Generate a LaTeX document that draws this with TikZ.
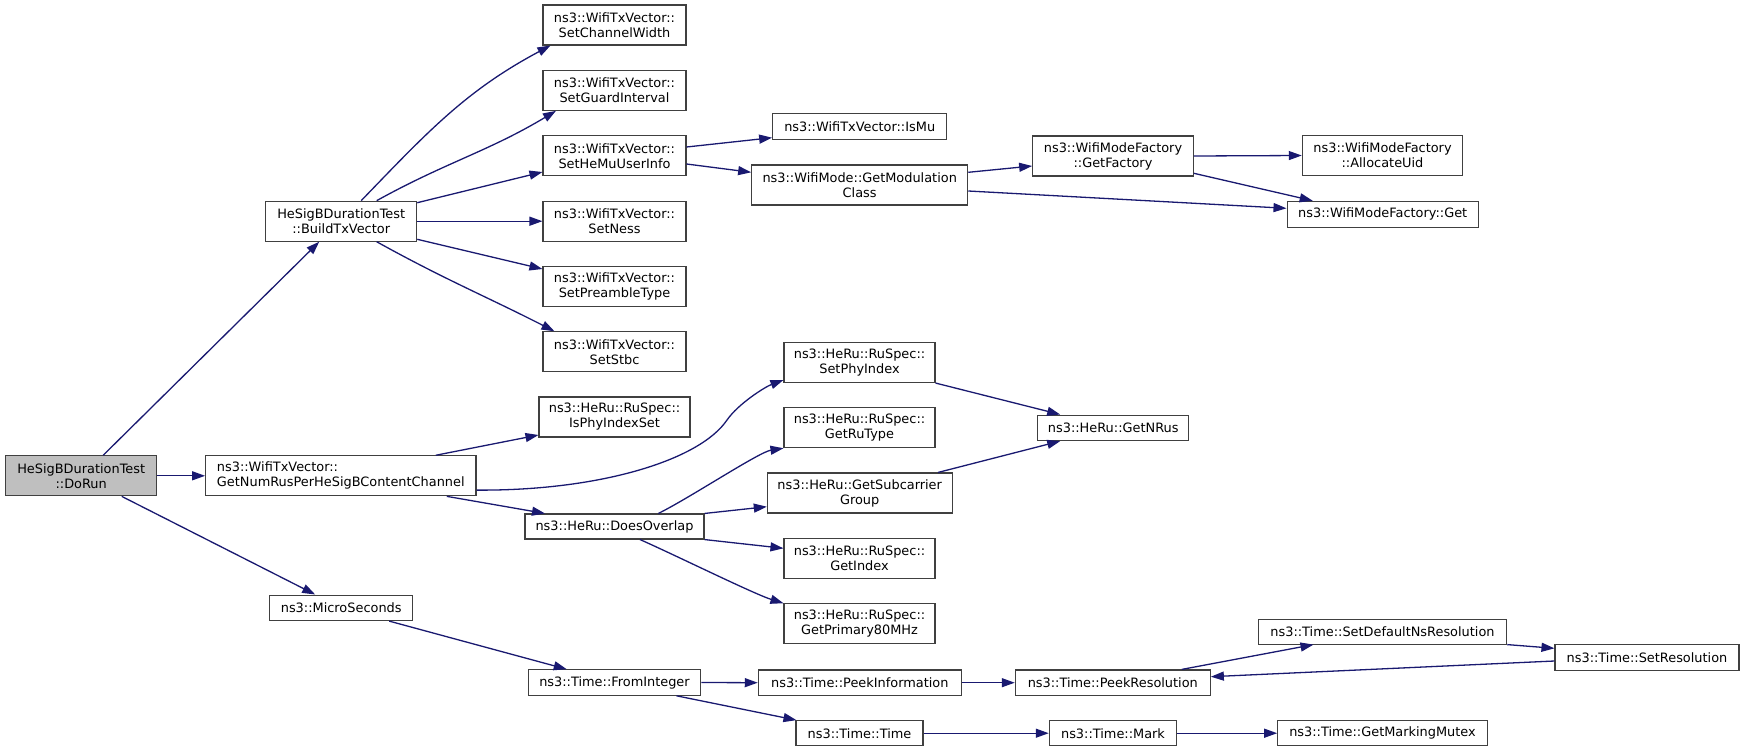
\documentclass[tikz,border=0pt]{standalone}
\usepackage{fontspec}
\setmainfont{DejaVu Sans}
\usetikzlibrary{arrows.meta}
\definecolor{edgecol}{HTML}{191970}
\definecolor{bordercol}{HTML}{404040}
\definecolor{rootfill}{HTML}{BFBFBF}
\begin{document}
\begin{tikzpicture}[x=1pt,y=-1pt,
  box/.style={draw=bordercol, line width=1.1pt, fill=white, inner sep=0pt,
    align=center, minimum height=40pt, font=\fontsize{12.9}{15}\selectfont},
  one/.style={minimum height=25.5pt},
  edge/.style={draw=edgecol, line width=1.3pt, -{Triangle[length=13pt,width=9pt]}}]
\useasboundingbox (0,0) rectangle (1744,752);
% column 0
\node[box, fill=rootfill, minimum width=151pt] (DoRun) at (81.2,475.8) {HeSigBDurationTest\\::DoRun};
% column 1
\node[box, minimum width=151pt] (Build) at (341.2,221.2) {HeSigBDurationTest\\::BuildTxVector};
\node[box, minimum width=270.3pt, align=left] (NumRus) at (340.8,475.8) {ns3::WifiTxVector::\\GetNumRusPerHeSigBContentChannel};
\node[box, one, minimum width=143pt] (Micro) at (341.2,607.8) {ns3::MicroSeconds};
% column 2
\node[box, minimum width=143pt] (ChW) at (614.5,25) {ns3::WifiTxVector::\\SetChannelWidth};
\node[box, minimum width=143pt] (GI) at (614.5,90.3) {ns3::WifiTxVector::\\SetGuardInterval};
\node[box, minimum width=143pt] (HeMu) at (614.5,155.8) {ns3::WifiTxVector::\\SetHeMuUserInfo};
\node[box, minimum width=143pt] (Ness) at (614.5,221.2) {ns3::WifiTxVector::\\SetNess};
\node[box, minimum width=143pt] (Pre) at (614.5,286.3) {ns3::WifiTxVector::\\SetPreambleType};
\node[box, minimum width=143pt] (Stbc) at (614.5,351.8) {ns3::WifiTxVector::\\SetStbc};
\node[box, minimum width=151pt] (IsPhy) at (614.5,417) {ns3::HeRu::RuSpec::\\IsPhyIndexSet};
\node[box, one, minimum width=179pt, minimum height=25pt] (Overlap) at (614.5,526.5) {ns3::HeRu::DoesOverlap};
\node[box, one, minimum width=172.4pt] (FromInt) at (614.5,682.5) {ns3::Time::FromInteger};
% column 3
\node[box, one, minimum width=174pt] (IsMu) at (859.7,126.3) {ns3::WifiTxVector::IsMu};
\node[box, minimum width=216pt] (GMC) at (859.7,185) {ns3::WifiMode::GetModulation\\Class};
\node[box, minimum width=151pt] (SetPhy) at (859.5,362.5) {ns3::HeRu::RuSpec::\\SetPhyIndex};
\node[box, minimum width=151pt] (RuType) at (859.5,427.7) {ns3::HeRu::RuSpec::\\GetRuType};
\node[box, minimum width=184.7pt] (SubG) at (859.7,493) {ns3::HeRu::GetSubcarrier\\Group};
\node[box, minimum width=151pt] (GetIdx) at (859.5,558.3) {ns3::HeRu::RuSpec::\\GetIndex};
\node[box, minimum width=151pt] (P80) at (859.5,623.8) {ns3::HeRu::RuSpec::\\GetPrimary80MHz};
\node[box, one, minimum width=203pt] (PeekInfo) at (859.8,682.7) {ns3::Time::PeekInformation};
\node[box, one, minimum width=127pt, minimum height=25pt] (TimeT) at (859.5,733.2) {ns3::Time::Time};
% column 4
\node[box, minimum width=160.6pt] (Factory) at (1113,156) {ns3::WifiModeFactory\\::GetFactory};
\node[box, one, minimum width=151pt] (NRus) at (1113.2,427.8) {ns3::HeRu::GetNRus};
\node[box, one, minimum width=195pt] (PeekRes) at (1112.8,682.7) {ns3::Time::PeekResolution};
\node[box, one, minimum width=127.4pt, minimum height=25pt] (Mark) at (1113,733.2) {ns3::Time::Mark};
% column 5
\node[box, minimum width=160.4pt] (Alloc) at (1382.5,155.5) {ns3::WifiModeFactory\\::AllocateUid};
\node[box, one, minimum width=191.3pt, minimum height=26pt] (Get) at (1382.7,214.3) {ns3::WifiModeFactory::Get};
\node[box, one, minimum width=248.4pt, minimum height=24.7pt] (SetDef) at (1382.5,631.7) {ns3::Time::SetDefaultNsResolution};
\node[box, one, minimum width=209.6pt, minimum height=25pt] (Mutex) at (1382.5,733.2) {ns3::Time::GetMarkingMutex};
% column 6
\node[box, one, minimum width=184pt] (SetRes) at (1647,657.3) {ns3::Time::SetResolution};

% edges
\draw[edge] ([xshift=22pt]DoRun.north) -- ([xshift=-22pt]Build.south);
\draw[edge] (DoRun.east) -- (NumRus.west);
\draw[edge] ([xshift=40.5pt]DoRun.south) -- ([xshift=-26pt]Micro.north);

\draw[edge] ([xshift=20pt]Build.north) to[out=46,in=208] ([xshift=8pt]ChW.south west);
\draw[edge] ([xshift=35.5pt]Build.north) to[out=29,in=211] ([xshift=13.5pt]GI.south west);
\draw[edge] ([yshift=18.5pt]Build.east) -- ([yshift=-16.2pt]HeMu.west);
\draw[edge] (Build.east) -- (Ness.west);
\draw[edge] ([yshift=-18.1pt]Build.east) -- ([yshift=17.3pt]Pre.west);
\draw[edge] ([xshift=35.5pt]Build.south) to[out=-29,in=153] ([xshift=12pt]Stbc.north west);

\draw[edge] ([yshift=8.8pt]HeMu.east) -- ([yshift=-11.4pt]IsMu.west);
\draw[edge] ([yshift=-8.2pt]HeMu.east) -- ([yshift=12.7pt]GMC.west);
\draw[edge] ([yshift=12.7pt]GMC.east) -- ([yshift=-10pt]Factory.west);
\draw[edge] ([yshift=-6pt]GMC.east) -- ([yshift=6pt]Get.west);
\draw[edge] (Factory.east) -- (Alloc.west);
\draw[edge] ([yshift=-17.3pt]Factory.east) -- ([xshift=-70pt]Get.north);

\draw[edge] ([xshift=95pt]NumRus.north) -- ([yshift=-18pt]IsPhy.west);
\draw[edge] ([yshift=-14.3pt]NumRus.east) .. controls (600,491) and (700,460) .. (727,420)
  .. controls (738.4,403.6) and (765.2,386.8) .. ([yshift=-17.5pt]SetPhy.west);
\draw[edge] ([xshift=106pt]NumRus.south) -- ([xshift=-69.5pt]Overlap.north);

\draw[edge] ([xshift=43.8pt]Overlap.north) .. controls (688,499) and (759,452) .. (RuType.south west);
\draw[edge] (Overlap.north east) -- ([yshift=-13.7pt]SubG.west);
\draw[edge] (Overlap.south east) -- ([yshift=10pt]GetIdx.west);
\draw[edge] ([xshift=25.5pt]Overlap.south) .. controls (675,555) and (754,594) .. (P80.north west);

\draw[edge] (SetPhy.south east) -- ([xshift=-53pt]NRus.north);
\draw[edge] ([xshift=78.3pt]SubG.north) -- ([xshift=-53pt]NRus.south);

\draw[edge] ([xshift=48pt]Micro.south) -- ([xshift=-47.8pt]FromInt.north);
\draw[edge] (FromInt.east) -- (PeekInfo.west);
\draw[edge] ([xshift=62pt]FromInt.south) -- ([xshift=1pt]TimeT.north west);
\draw[edge] (TimeT.east) -- (Mark.west);
\draw[edge] (Mark.east) -- (Mutex.west);
\draw[edge] (PeekInfo.east) -- (PeekRes.west);
\draw[edge] ([xshift=69pt]PeekRes.north) -- ([xshift=-69pt]SetDef.south);
\draw[edge] (SetDef.south east) -- ([yshift=9pt]SetRes.west);
\draw[edge] ([yshift=-3.7pt]SetRes.west) -- ([yshift=6pt]PeekRes.east);
\end{tikzpicture}
\end{document}
